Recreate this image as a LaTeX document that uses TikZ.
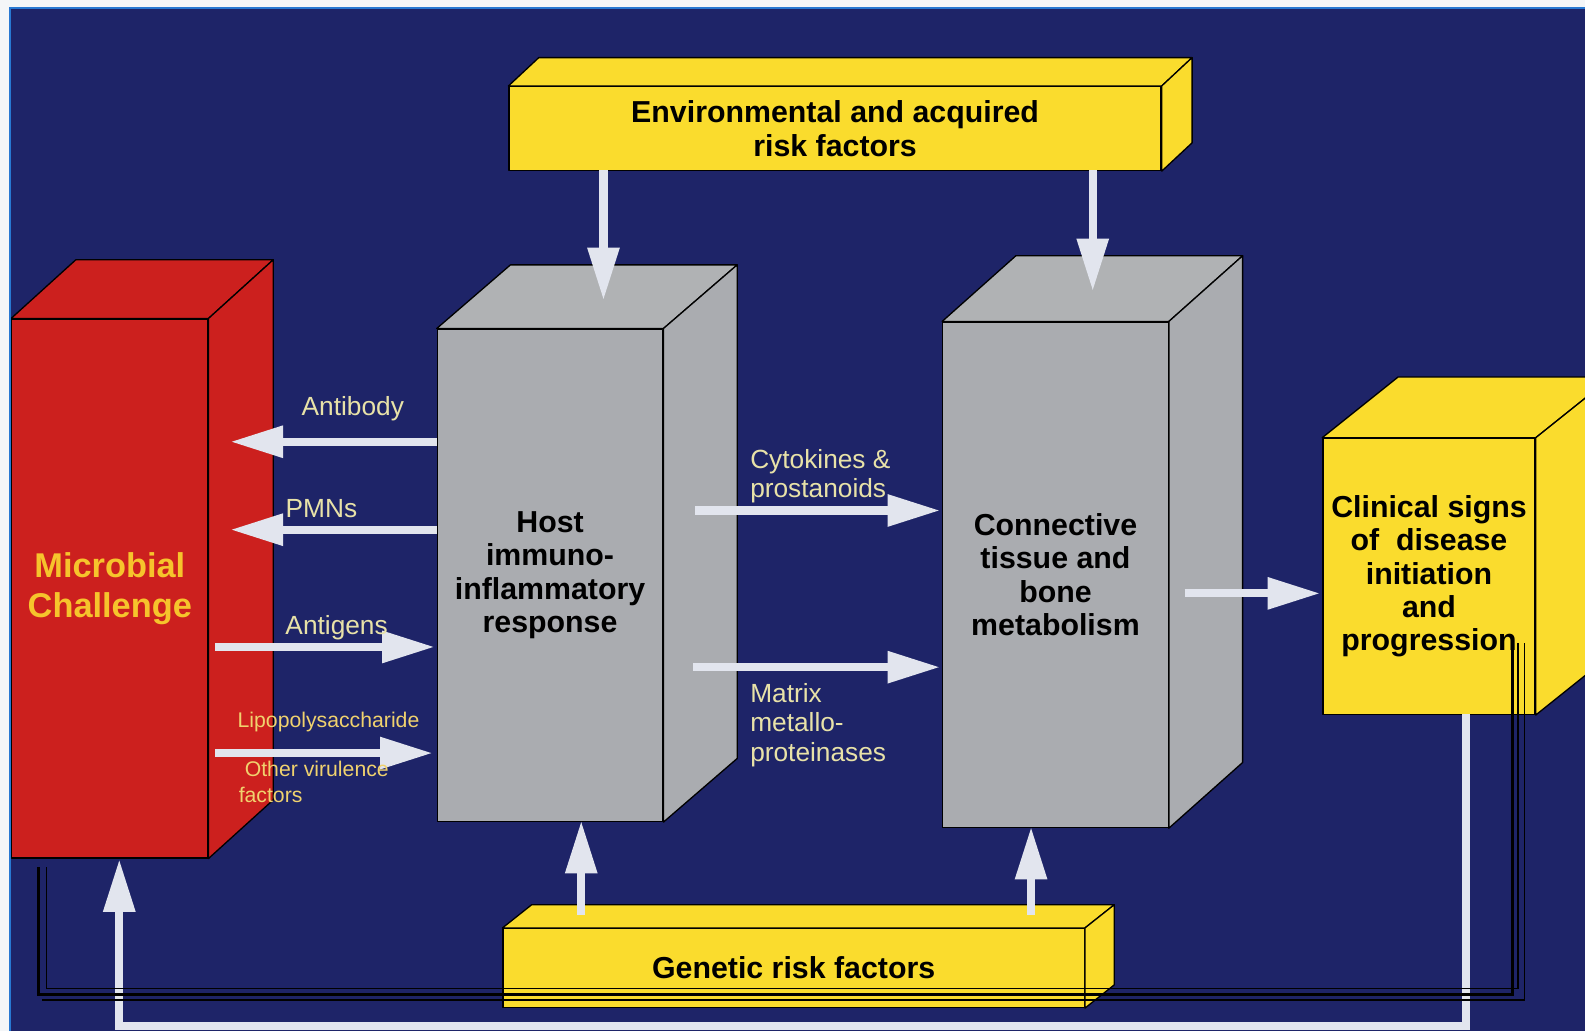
\documentclass[tikz,border=0pt]{standalone}
\usepackage{fontspec}
\setmainfont{Liberation Sans}
\usetikzlibrary{arrows.meta,calc}

\definecolor{navy}{RGB}{30,36,104}
\definecolor{outerwhite}{RGB}{244,246,248}
\definecolor{frameblue}{RGB}{40,120,210}
\definecolor{redbox}{RGB}{204,32,30}
\definecolor{graybox}{RGB}{170,172,176}
\definecolor{graytop}{RGB}{176,178,180}
\definecolor{yellowbox}{RGB}{250,220,45}
\definecolor{microyellow}{RGB}{246,196,44}
\definecolor{arrowwhite}{RGB}{226,229,238}
\definecolor{labelcream}{RGB}{232,226,168}
\definecolor{lpsyellow}{RGB}{240,210,110}

\newcommand\blockfaces[5]{%
  \filldraw[face,fill=#4] (#1.north west) -- ++(#2,#3) -- ($(#1.north east)+(#2,#3)$) -- (#1.north east) -- cycle;
  \filldraw[face,fill=#5] (#1.north east) -- ($(#1.north east)+(#2,#3)$) -- ($(#1.south east)+(#2,#3)$) -- (#1.south east) -- cycle;}

\begin{document}
\begin{tikzpicture}[x=1pt,y=-1pt,
  face/.style={draw=black,line width=1.3pt,line join=round},
  front/.style={face,anchor=north west,inner sep=0pt,align=center,font=\bfseries\fontsize{30}{33}\selectfont},
  fat/.style={draw=arrowwhite,line width=8pt,-{Triangle[length=52pt,width=30pt]}},
  lbl/.style={text=labelcream,font=\fontsize{26}{29}\selectfont,align=left,inner sep=0pt},
  overlay line/.style={draw=black,line join=miter}]
\clip (0,0) rectangle (1568,1020);
\fill[outerwhite] (0,0) rectangle (1568,1020);
\fill[navy] (10,8) rectangle (1568,1020);

\node[front,fill=redbox,text=microyellow,font=\bfseries\fontsize{34}{40}\selectfont,minimum width=194pt,minimum height=533pt] (micro) at (11,315) {Microbial\\Challenge};
\blockfaces{micro}{64}{-58}{redbox}{redbox}
\node[front,fill=graybox,minimum width=223pt,minimum height=487pt] (host) at (432,325) {Host\\immuno-\\inflammatory\\response};
\blockfaces{host}{73}{-63}{graytop}{graybox}
\node[front,fill=graybox,minimum width=223pt,minimum height=500pt] (conn) at (932,318) {Connective\\tissue and\\bone\\metabolism};
\blockfaces{conn}{73}{-65}{graytop}{graybox}
\node[front,fill=yellowbox,minimum width=210pt,minimum height=273pt] (clin) at (1308,433) {Clinical signs\\of~ disease\\initiation\\and\\progression};
\blockfaces{clin}{75}{-60}{yellowbox}{yellowbox}
\node[front,fill=yellowbox,minimum width=645pt,minimum height=83pt] (env) at (503,85) {Environmental and acquired\\risk factors};
\blockfaces{env}{30}{-28}{yellowbox}{yellowbox}
\node[front,fill=yellowbox,minimum width=575pt,minimum height=78pt] (gen) at (497,918) {Genetic risk factors};
\blockfaces{gen}{29}{-23}{yellowbox}{yellowbox}

\coordinate (env-l) at (597,168);  \coordinate (host-t) at (597,297);
\coordinate (env-r) at (1081,168); \coordinate (conn-t) at (1081,288);
\coordinate (gen-l) at (575,905);  \coordinate (host-b) at (575,812);
\coordinate (gen-r) at (1020,905); \coordinate (conn-b) at (1020,818);
\coordinate (host-ab) at (432,437); \coordinate (micro-ab) at (228,437);
\coordinate (host-pmn) at (432,524); \coordinate (micro-pmn) at (228,524);
\coordinate (micro-ag) at (213,640); \coordinate (host-ag) at (430,640);
\coordinate (micro-lps) at (213,745); \coordinate (host-lps) at (428,745);
\coordinate (host-cy) at (688,505); \coordinate (conn-cy) at (930,505);
\coordinate (host-mmp) at (686,660); \coordinate (conn-mmp) at (930,660);
\coordinate (conn-out) at (1172,587); \coordinate (clin-in) at (1306,587);
\coordinate (clin-out) at (1450,706); \coordinate (fb-r) at (1450,1015);
\coordinate (fb-l) at (118,1015); \coordinate (micro-in) at (118,850);

\draw[fat] (env-l) -- (host-t);
\draw[fat] (env-r) -- (conn-t);
\draw[fat] (gen-l) -- (host-b);
\draw[fat] (gen-r) -- (conn-b);
\draw[fat] (host-ab) -- (micro-ab);
\draw[fat] (host-pmn) -- (micro-pmn);
\draw[fat] (micro-ag) -- (host-ag);
\draw[fat] (micro-lps) -- (host-lps);
\draw[fat] (host-cy) -- (conn-cy);
\draw[fat] (host-mmp) -- (conn-mmp);
\draw[fat] (conn-out) -- (clin-in);
\draw[fat,line join=miter] (clin-out) -- (fb-r) -- (fb-l) -- (micro-in);

\node[lbl] (antibody) at (349,404) {Antibody};
\node[lbl] (pmns) at (318,503) {PMNs};
\node[lbl] (antigens) at (333,621) {Antigens};
\node[lbl,text=lpsyellow,font=\fontsize{21}{25}\selectfont] (lps) at (325,714) {Lipopolysaccharide};
\node[lbl,text=lpsyellow,font=\fontsize{21}{25}\selectfont,anchor=north west] (virulence) at (236,753) {\hspace{6pt}Other virulence\\factors};
\node[lbl,anchor=north west] (cytokines) at (742,444) {Cytokines \&\\prostanoids};
\node[lbl,anchor=north west] (matrix) at (742,676) {Matrix\\metallo-\\proteinases};

\draw[overlay line,line width=1.6pt] (46,858) -- (46,978) -- (1502,978) -- (1502,636);
\draw[overlay line,line width=2.8pt] (38,858) -- (38,984) -- (1496,984) -- (1496,636);
\draw[overlay line,line width=1.6pt] (42,989) -- (1508,989) -- (1508,636);

\draw[frameblue,line width=2.5pt] (10,1020) -- (10,8) -- (1568,8);
\end{tikzpicture}
\end{document}
